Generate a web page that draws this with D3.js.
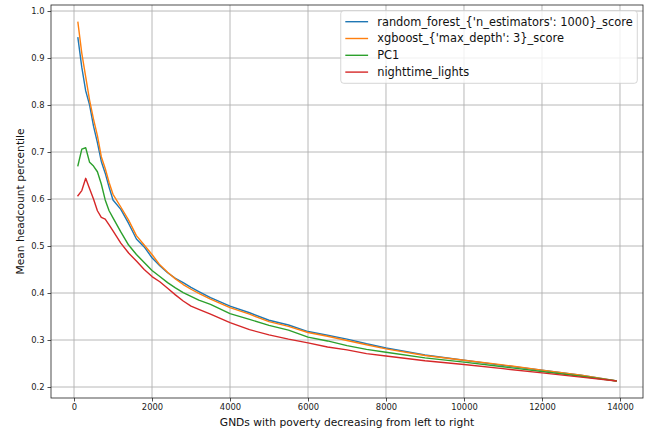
<!DOCTYPE html>
<html><head><meta charset="utf-8">
<script src="https://cdn.jsdelivr.net/npm/d3@7"></script>
<style>body{margin:0;background:#fff}svg{display:block}text{font-family:"DejaVu Sans",sans-serif}</style>
</head><body><svg id="c" width="648" height="433"></svg>
<script>
const xs = [100,200,300,400,500,600,700,800,900,1000,1200,1400,1600,1800,2000,2200,2400,2600,2800,3000,3200,3500,4000,4500,5000,5500,6000,6500,7000,7500,8000,9000,10000,11000,12000,13000,13900];
const randomForest = [0.943,0.88,0.83,0.80,0.755,0.72,0.68,0.655,0.625,0.598,0.578,0.548,0.515,0.498,0.475,0.458,0.443,0.431,0.422,0.412,0.403,0.39,0.372,0.358,0.342,0.332,0.318,0.31,0.302,0.292,0.283,0.268,0.257,0.246,0.236,0.225,0.213];
const xgboost = [0.976,0.91,0.86,0.81,0.77,0.735,0.69,0.665,0.635,0.61,0.583,0.555,0.522,0.502,0.482,0.46,0.444,0.43,0.418,0.408,0.399,0.387,0.369,0.355,0.339,0.329,0.316,0.308,0.299,0.29,0.281,0.267,0.257,0.247,0.236,0.225,0.213];
const pc1 = [0.671,0.706,0.709,0.678,0.670,0.658,0.632,0.598,0.575,0.56,0.53,0.502,0.482,0.465,0.448,0.435,0.422,0.411,0.401,0.393,0.385,0.376,0.356,0.344,0.331,0.321,0.306,0.298,0.288,0.280,0.274,0.262,0.253,0.243,0.233,0.223,0.213];
const nightLights = [0.607,0.618,0.644,0.622,0.600,0.575,0.561,0.557,0.545,0.532,0.506,0.485,0.468,0.450,0.435,0.424,0.410,0.396,0.383,0.372,0.365,0.355,0.337,0.322,0.311,0.302,0.294,0.285,0.279,0.271,0.266,0.256,0.248,0.239,0.230,0.221,0.213];
const seriesNames = ["random_forest_{'n_estimators': 1000}_score","xgboost_{'max_depth': 3}_score","PC1","nighttime_lights"];
const seriesValues = [randomForest, xgboost, pc1, nightLights];
const colors = ["#1f77b4","#ff7f0e","#2ca02c","#d62728"];
const xTicks = [0,2000,4000,6000,8000,10000,12000,14000];
const yTicks = [0.2,0.3,0.4,0.5,0.6,0.7,0.8,0.9,1.0];

const L=51,R=643,T=5,B=398;
const svg=d3.select("#c");
const x=d3.scaleLinear().domain([-590,14590]).range([L,R]);
const y=d3.scaleLinear().domain([0.1766,1.0128]).range([B,T]);

// grid
svg.append("g").selectAll("line").data(xTicks).join("line")
 .attr("x1",d=>x(d)).attr("x2",d=>x(d)).attr("y1",T).attr("y2",B)
 .attr("stroke","#b0b0b0").attr("stroke-width",0.9);
svg.append("g").selectAll("line").data(yTicks).join("line")
 .attr("y1",d=>y(d)).attr("y2",d=>y(d)).attr("x1",L).attr("x2",R)
 .attr("stroke","#b0b0b0").attr("stroke-width",0.9);

// lines
const line=d3.line().x((d,i)=>x(xs[i])).y(d=>y(d));
seriesValues.forEach((vals,k)=>{
  svg.append("path").datum(vals).attr("d",line).attr("fill","none")
   .attr("stroke",colors[k]).attr("stroke-width",1.4).attr("stroke-linejoin","round").attr("stroke-linecap","square");
});

// axes
const xa=svg.append("g").attr("transform",`translate(0,${B})`)
 .call(d3.axisBottom(x).tickValues(xTicks).tickFormat(d3.format("d")).tickSizeOuter(0).tickSize(3.5).tickPadding(3));
const ya=svg.append("g").attr("transform",`translate(${L},0)`)
 .call(d3.axisLeft(y).tickValues(yTicks).tickFormat(d3.format(".1f")).tickSizeOuter(0).tickSize(3.5).tickPadding(3));
[xa,ya].forEach(g=>{g.select(".domain").remove();g.selectAll("text").attr("font-size",8.4).attr("fill","#222").style("font-family","DejaVu Sans");g.selectAll("line").attr("stroke","#222").attr("stroke-width",0.8);});

svg.append("rect").attr("x",L).attr("y",T).attr("width",R-L).attr("height",B-T)
 .attr("fill","none").attr("stroke","#222").attr("stroke-width",0.8);

svg.append("text").attr("x",(L+R)/2).attr("y",426).attr("text-anchor","middle").attr("font-size",10.7).attr("fill","#111").text("GNDs with poverty decreasing from left to right");
svg.append("text").attr("transform",`translate(24,${(T+B)/2}) rotate(-90)`).attr("text-anchor","middle").attr("font-size",10.7).attr("fill","#111").text("Mean headcount percentile");

// legend
const fs=11.4;
const lg=svg.append("g");
const lgY=T+5.7, rowH=16.8;
const box=lg.append("rect").attr("y",lgY).attr("height",72.6).attr("rx",3)
 .attr("fill","#fff").attr("fill-opacity",0.8).attr("stroke","#cccccc").attr("stroke-width",0.8);
const texts=[];
seriesNames.forEach((n,i)=>{
  const cy=lgY+11+i*rowH;
  lg.append("line").attr("y1",cy).attr("y2",cy).attr("stroke",colors[i]).attr("stroke-width",1.4);
  texts.push(lg.append("text").attr("y",cy).attr("dy","0.35em").attr("font-size",fs).attr("fill","#111").text(n));
});
const maxW=d3.max(texts,t=>t.node().getComputedTextLength());
const pad=0.4*fs, hl=2*fs, htp=0.8*fs;
const W2=pad+hl+htp+maxW+pad;
const nx=R-0.5*fs-W2;
box.attr("x",nx).attr("width",W2);
lg.selectAll("line").attr("x1",nx+pad).attr("x2",nx+pad+hl);
texts.forEach(t=>t.attr("x",nx+pad+hl+htp));
</script></body></html>
